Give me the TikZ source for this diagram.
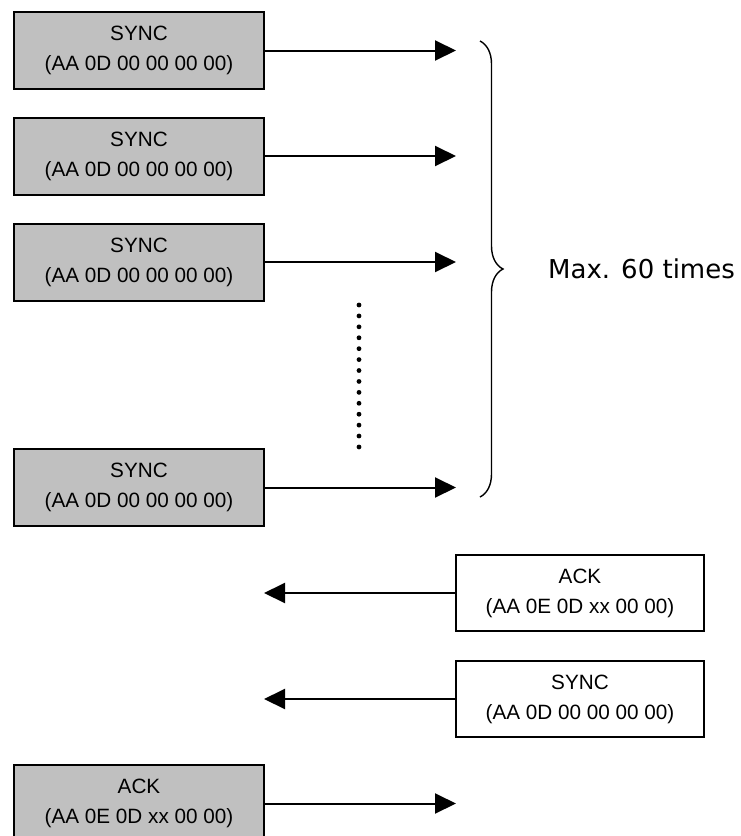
\documentclass[tikz,border=0pt]{standalone}
\usepackage{fontspec}
\setmainfont{Liberation Sans}
\newfontfamily\notefont{DejaVu Sans}
\usetikzlibrary{arrows.meta,decorations.pathreplacing}

\tikzset{
  msg/.style={draw=black, line width=2pt, minimum width=250pt, minimum height=77pt,
    inner sep=0pt, align=center, font=\fontsize{20.7}{30}\selectfont},
  sent/.style={msg, fill=sentgray},
  recv/.style={msg, fill=white, minimum width=248pt, minimum height=76pt},
  flow/.style={line width=2pt, -{Triangle[length=21pt,width=20pt]}},
  dotmark/.style={circle, fill=black, inner sep=0pt, minimum size=4.8pt}
}
\definecolor{sentgray}{HTML}{C0C0C0}

\begin{document}
\begin{tikzpicture}[x=1pt, y=-1pt]
  \useasboundingbox (0,0) rectangle (740,836);
  \clip (0,0) rectangle (740,836);

  % repeated SYNC requests from the host
  \node[sent] (s1) at (139,50.5) {SYNC\\(AA 0D 00 00 00 00)};
  \node[sent] (s2) at (139,156)  {SYNC\\(AA 0D 00 00 00 00)};
  \node[sent] (s3) at (139,262)  {SYNC\\(AA 0D 00 00 00 00)};
  \node[sent] (s4) at (139,487.5){SYNC\\(AA 0D 00 00 00 00)};

  \coordinate (e1) at (456,50.5);
  \coordinate (e2) at (456,156);
  \coordinate (e3) at (456,262);
  \coordinate (e4) at (456,487.5);
  \draw[flow] (s1.east) -- (e1);
  \draw[flow] (s2.east) -- (e2);
  \draw[flow] (s3.east) -- (e3);
  \draw[flow] (s4.east) -- (e4);

  % ellipsis between the third and last request
  \foreach \k in {0,...,13}
    \node[dotmark] (d\k) at (359,{305+\k*10.92}) {};

  % brace grouping the retries
  \coordinate (bt) at (480,41);
  \coordinate (bb) at (480,497);
  \draw[line width=1.4pt, decorate, decoration={brace, amplitude=23pt}] (bt) -- (bb);
  \node[anchor=west, inner sep=0pt, font=\notefont\fontsize{26}{30}\selectfont] (note) at (548,269) {Max. 60 times};

  % replies from the camera
  \node[recv] (ack) at (580,593) {ACK\\(AA 0E 0D xx 00 00)};
  \node[recv] (sr)  at (580,699) {SYNC\\(AA 0D 00 00 00 00)};
  \coordinate (w1) at (264,593);
  \coordinate (w2) at (264,699);
  \draw[flow] (ack.west) -- (w1);
  \draw[flow] (sr.west) -- (w2);

  % final acknowledgement from the host
  \node[sent] (a5) at (139,803.5) {ACK\\(AA 0E 0D xx 00 00)};
  \coordinate (e5) at (456,803.5);
  \draw[flow] (a5.east) -- (e5);
\end{tikzpicture}
\end{document}
